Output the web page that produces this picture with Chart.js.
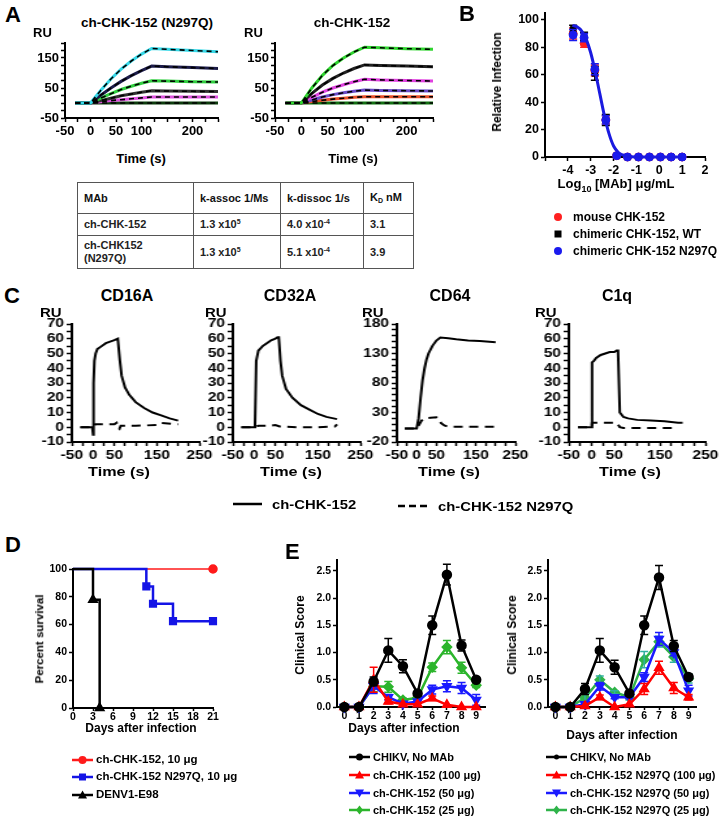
<!DOCTYPE html>
<html lang="en">
<head>
<meta charset="UTF-8">
<title>CHK-152 Fc binding and protection</title>
<script src="https://cdn.jsdelivr.net/npm/chart.js"></script>
<style>
  body { margin: 0; background: #fff; }
  #fig { position: relative; width: 723px; height: 821px; overflow: hidden;
         font-family: "Liberation Sans", Arial, sans-serif; font-weight: bold; color: #000; }
  #fig canvas { position: absolute; }
  .t { position: absolute; white-space: nowrap; line-height: 1; }
  .rot { position: absolute; white-space: nowrap; line-height: 1; transform: translate(-50%, -50%) rotate(-90deg); }
  table.kin { position: absolute; left: 77px; top: 182px; width: 336px; border-collapse: collapse;
              table-layout: fixed; font-size: 11px; color: #222; }
  table.kin td { border: 1.5px solid #555; padding: 0 6px; vertical-align: middle; line-height: 1.15; }
  table.kin tr.h td { color: #111; font-weight: 600; }
  table.kin sup { font-size: 7px; vertical-align: 4px; }
  table.kin sub { font-size: 7px; vertical-align: -2px; }
</style>
</head>
<body>
<div id="fig">
  <table class="kin">
    <colgroup><col style="width:116px"><col style="width:87px"><col style="width:83px"><col style="width:50px"></colgroup>
    <tr class="h" style="height:31px"><td>MAb</td><td>k-assoc 1/Ms</td><td>k-dissoc 1/s</td><td>K<sub>D</sub> nM</td></tr>
    <tr style="height:22px"><td>ch-CHK-152</td><td>1.3 x10<sup>5</sup></td><td>4.0 x10<sup>-4</sup></td><td>3.1</td></tr>
    <tr style="height:33px"><td>ch-CHK152<br>(N297Q)</td><td>1.3 x10<sup>5</sup></td><td>5.1 x10<sup>-4</sup></td><td>3.9</td></tr>
  </table>
</div>
<script>
// ---------- A: SPR sensorgrams ----------
const aTime = [-30, 0, 20, 40, 60, 80, 100, 120, 150, 200, 250];
const aN297Q = [
  [0, 0, 42, 80, 113, 140, 163, 182, 179, 175, 171],
  [0, 0, 26, 50, 72, 91, 108, 123, 121, 118, 115],
  [0, 0, 16, 31, 45, 56, 66, 74, 73, 71, 70],
  [0, 0, 8, 16, 24, 30, 36, 41, 40, 39, 38],
  [0, 0, 4, 8, 11, 14, 17, 20, 20, 20, 20],
  [0, 0, 0, 0, 0, 0, 0, 0, 0, 0, 0]
];
const aWT = [
  [0, 0, 50, 92, 125, 150, 170, 186, 184, 181, 179],
  [0, 0, 32, 60, 82, 100, 115, 127, 125, 123, 121],
  [0, 0, 19, 36, 50, 61, 71, 79, 77, 75, 73],
  [0, 0, 10, 20, 28, 34, 39, 43, 42, 41, 40],
  [0, 0, 5, 9, 13, 16, 19, 21, 21, 21, 21],
  [0, 0, 0, 0, 0, 0, 0, 0, 0, 0, 0]
];
const aN297QColors = ['#35d8e8', '#1c1c4a', '#2fcf3f', '#333333', '#e050e0', '#0d3d0d'];
const aWTColors = ['#2fd52f', '#222222', '#e040e0', '#6a4bc8', '#e8502a', '#127012'];
const aXLabels = [-50, 0, 50, 100, 200];
const aYLabels = [150, 50, -50];

// ---------- B: neutralization ----------
const bLogDose = [-3.77, -3.29, -2.82, -2.34, -1.86, -1.39, -0.91, -0.43, 0.05, 0.52, 1.0];
const bMouse = [90, 83, 63, 27, 1, 0, 0, 0, 0, 0, 0];
const bMouseErr = [4, 3, 4, 3, 1, 0, 0, 0, 0, 0, 0];
const bChimWT = [93, 88, 61, 27, 1, 0, 0, 0, 0, 0, 0];
const bChimWTErr = [3, 3, 5, 4, 1, 0, 0, 0, 0, 0, 0];
const bChimN297Q = [89, 87, 64, 27, 1, 0, 0, 0, 0, 0, 0];
const bChimN297QErr = [4, 3, 4, 3, 1, 0, 0, 0, 0, 0, 0];
const bFitX = [-3.8, -3.6, -3.4, -3.2, -3.0, -2.8, -2.6, -2.4, -2.2, -2.0, -1.8, -1.6, -1.4, -1.2, -1.0, 0, 1.0];
const bFitY = [96, 95, 92, 86, 76, 62, 46, 30, 17, 8, 3.5, 1.5, 0.6, 0.2, 0, 0, 0];
const bXLabels = [-4, -3, -2, -1, 0, 1, 2];
const bYLabels = [0, 20, 40, 60, 80, 100];

// ---------- C: Fc receptor / C1q binding ----------
const cd16aWtT  = [-30, -2, 0, 1, 3, 6, 10, 20, 30, 40, 50, 58, 60, 63, 67, 75, 85, 100, 120, 140, 160, 180, 200];
const cd16aWtRU = [0, 0, -5, 30, 45, 50, 53, 55, 57, 58, 59, 60, 60, 45, 35, 27, 22, 17, 13, 10, 8, 6, 4.5];
const cd16aMutT  = [-30, 0, 5, 50, 55, 58, 62, 65, 100, 150, 160, 200];
const cd16aMutRU = [0, 0, 2, 2, 3, 0, -1, 1, 1, 1.5, 3, 2];
const cd32aWtT  = [-30, 0, 2, 5, 10, 20, 30, 40, 50, 55, 58, 62, 66, 75, 90, 110, 130, 150, 170, 195];
const cd32aWtRU = [0, 0, 1, 45, 52, 55, 57, 59, 60, 61, 61, 45, 35, 26, 20, 15, 12, 9, 7, 5.5];
const cd32aMutT  = [-30, 0, 10, 40, 50, 60, 100, 150, 190, 195];
const cd32aMutRU = [0, 0, 1, 1, 1.5, 0.5, 0, 0, 0.5, 2];
const cd64WtT  = [-30, 0, 5, 10, 15, 20, 25, 30, 40, 50, 60, 80, 100, 130, 160, 200];
const cd64WtRU = [3, 3, 20, 55, 85, 105, 120, 130, 143, 152, 157, 156, 154, 152, 151, 149];
const cd64MutT  = [-30, 0, 5, 12, 20, 35, 50, 55, 62, 70, 80, 100, 150, 200];
const cd64MutRU = [3, 3, 8, 16, 20, 21, 22, 20, 12, 8, 6, 6, 6, 6];
const c1qWtT  = [-30, 0, 1, 5, 10, 20, 30, 40, 50, 55, 58, 62, 70, 80, 100, 130, 160, 190, 200];
const c1qWtRU = [0, 0, 44, 45, 47, 49, 50, 51, 51, 52, 52, 10, 7, 6, 5, 4.5, 4, 3, 3];
const c1qMutT  = [-30, 0, 1, 40, 50, 55, 60, 62, 70, 100, 150, 190];
const c1qMutRU = [0, 0, 3, 3, 3, 3, 1, 0, -0.5, -0.5, -0.5, -0.5];
const cXLabels = [-50, 0, 50, 150, 250];
const cYLabels = [-10, 0, 10, 20, 30, 40, 50, 60, 70];
const cd64YLabels = [-20, 30, 80, 130, 180];

// ---------- D: survival ----------
const dRedDay = [0, 21], dRedPct = [100, 100];
const dBlueDay = [0, 11, 12, 15, 21], dBluePct = [100, 87.5, 75, 62.5, 62.5];
const dBlackDay = [0, 3, 4], dBlackPct = [100, 77.8, 0];
const dXLabels = [0, 3, 6, 9, 12, 15, 18, 21];
const dYLabels = [0, 20, 40, 60, 80, 100];

// ---------- E: clinical score ----------
const eDays = [0, 1, 2, 3, 4, 5, 6, 7, 8, 9];
const eLeftChikv = [0, 0, 0.47, 1.04, 0.75, 0.25, 1.5, 2.43, 1.13, 0.5];
const eLeftChikvErr = [0, 0, 0.08, 0.22, 0.12, 0, 0.17, 0.19, 0.1, 0];
const eLeft100 = [0, 0, 0.5, 0.1, 0.05, 0.05, 0.16, 0.04, 0, 0];
const eLeft100Err = [0, 0, 0.23, 0.04, 0, 0, 0.04, 0, 0, 0];
const eLeft50 = [0, 0, 0.38, 0.18, 0.06, 0.1, 0.32, 0.38, 0.35, 0.13];
const eLeft50Err = [0, 0, 0.13, 0.05, 0, 0.03, 0.08, 0.1, 0.1, 0.1];
const eLeft25 = [0, 0, 0.38, 0.37, 0.13, 0.17, 0.73, 1.1, 0.72, 0.4];
const eLeft25Err = [0, 0, 0.1, 0.1, 0.03, 0.03, 0.08, 0.12, 0.1, 0.04];
const eRightChikv = [0, 0, 0.33, 1.04, 0.73, 0.25, 1.5, 2.38, 1.12, 0.55];
const eRightChikvErr = [0, 0, 0.1, 0.22, 0.13, 0, 0.17, 0.22, 0.1, 0.05];
const eRight100 = [0, 0, 0.02, 0.18, 0, 0.05, 0.33, 0.72, 0.35, 0.18];
const eRight100Err = [0, 0, 0, 0.04, 0, 0, 0.1, 0.12, 0.1, 0.05];
const eRight50 = [0, 0, 0.05, 0.38, 0.18, 0.18, 0.55, 1.25, 1.0, 0.3];
const eRight50Err = [0, 0, 0.03, 0.07, 0.03, 0.03, 0.08, 0.12, 0.06, 0.1];
const eRight25 = [0, 0, 0.17, 0.5, 0.27, 0.18, 0.87, 1.2, 0.92, 0.52];
const eRight25Err = [0, 0, 0.08, 0.07, 0.03, 0.05, 0.15, 0.1, 0.1, 0.08];
const eXLabels = [0, 1, 2, 3, 4, 5, 6, 7, 8, 9];
const eYLabels = [0, 0.5, 1, 1.5, 2, 2.5];

// ---------- helpers ----------
const FONT = '"Liberation Sans", Arial, sans-serif';
Chart.defaults.font.family = FONT;
Chart.defaults.font.weight = 'bold';
Chart.defaults.color = '#000';

const fig = document.getElementById('fig');
const pts = (xs, ys) => xs.map((x, i) => ({ x, y: ys[i] }));

// vertical error bars, drawn with their own dataset so layering stays right
Chart.register({
  id: 'errorBars',
  afterDatasetDraw(chart, args) {
    const ds = chart.data.datasets[args.index];
    if (!ds.errors) return;
    const ctx = chart.ctx, ys = chart.scales.y;
    ctx.save();
    ctx.strokeStyle = ds.errorColor || ds.borderColor;
    ctx.lineWidth = 1.5;
    args.meta.data.forEach((el, j) => {
      const e = ds.errors[j];
      if (!e) return;
      const v = ds.data[j].y;
      const y1 = ys.getPixelForValue(v + e), y2 = ys.getPixelForValue(v - e);
      ctx.beginPath();
      ctx.moveTo(el.x, y1); ctx.lineTo(el.x, y2);
      ctx.moveTo(el.x - 4, y1); ctx.lineTo(el.x + 4, y1);
      ctx.moveTo(el.x - 4, y2); ctx.lineTo(el.x + 4, y2);
      ctx.stroke();
    });
    ctx.restore();
  }
});

function axis(min, max, first, step, shown, size, fmt, tight) {
  return {
    type: 'linear', min, max,
    afterBuildTicks: s => {
      const t = [];
      for (let v = first; v <= max + 1e-9; v += step) t.push({ value: Math.round(v * 1000) / 1000 });
      s.ticks = t;
    },
    ticks: {
      autoSkip: false, maxRotation: 0, minRotation: 0, padding: tight ? 0 : 2, color: '#000',
      font: { size, weight: 'bold' },
      callback: v => shown.some(s => Math.abs(s - v) < 1e-6) ? (fmt ? fmt(v) : String(v)) : ''
    },
    grid: { drawOnChartArea: false, drawTicks: true, tickLength: tight ? 3 : 4, tickWidth: 1.5, tickColor: '#000' },
    border: { display: true, color: '#000', width: 2 }
  };
}

// box = plot area in page pixels; sx stretches the canvas horizontally
function plot(box, datasets, xAxis, yAxis, sx = 1) {
  const padL = 46, padR = 22, padT = 12, padB = 26;
  const cv = document.createElement('canvas');
  cv.width = Math.round((box.r - box.l) / sx) + padL + padR;
  cv.height = box.b - box.t + padT + padB;
  cv.style.width = (cv.width * sx) + 'px';
  cv.style.height = cv.height + 'px';
  cv.style.left = (box.l - padL * sx) + 'px';
  cv.style.top = (box.t - padT) + 'px';
  fig.appendChild(cv);
  xAxis.afterFit = s => { s.height = padB; };
  yAxis.afterFit = s => { s.width = padL; };
  datasets.forEach(d => { d.clip = false; d.tension = d.tension || 0; });
  return new Chart(cv, {
    type: 'line',
    data: { datasets },
    options: {
      responsive: false, animation: false,
      layout: { padding: { top: padT, right: padR, left: 0, bottom: 0 } },
      plugins: { legend: { display: false }, tooltip: { enabled: false } },
      scales: { x: xAxis, y: yAxis }
    }
  });
}

function label(html, x, y, size, align, sx) {
  const d = document.createElement('div');
  d.className = 't';
  d.innerHTML = html;
  d.style.fontSize = size + 'px';
  d.style.left = x + 'px';
  d.style.top = (y - 0.85 * size) + 'px';
  let tf = '';
  if (align === 'c') tf += 'translateX(-50%) ';
  if (sx) { tf += `scaleX(${sx})`; d.style.transformOrigin = align === 'c' ? '50% 50%' : '0 50%'; }
  if (tf) d.style.transform = tf;
  fig.appendChild(d);
}
function vlabel(html, cx, cy, size) {
  const d = document.createElement('div');
  d.className = 'rot';
  d.innerHTML = html;
  d.style.fontSize = size + 'px';
  d.style.left = cx + 'px';
  d.style.top = cy + 'px';
  fig.appendChild(d);
}
function marker(shape, cx, cy, color, r = 4) {
  if (shape === 'circle') return `<circle cx="${cx}" cy="${cy}" r="${r}" fill="${color}"/>`;
  if (shape === 'square') return `<rect x="${cx - r + 0.5}" y="${cy - r + 0.5}" width="${2 * r - 1}" height="${2 * r - 1}" fill="${color}"/>`;
  if (shape === 'tri') return `<polygon points="${cx},${cy - r - 1} ${cx - r - 1},${cy + r} ${cx + r + 1},${cy + r}" fill="${color}"/>`;
  if (shape === 'triDown') return `<polygon points="${cx},${cy + r + 1} ${cx - r - 1},${cy - r} ${cx + r + 1},${cy - r}" fill="${color}"/>`;
  if (shape === 'diamond') return `<polygon points="${cx},${cy - r - 1} ${cx + r},${cy} ${cx},${cy + r + 1} ${cx - r},${cy}" fill="${color}"/>`;
  return '';
}
function key(x1, x2, y, color, shape, opts = {}) {
  const w = x2 - x1 + 12, h = 16, cx = (x2 - x1) / 2 + 6;
  let s = `<svg width="${w}" height="${h}" style="position:absolute;left:${x1 - 6}px;top:${y - 8}px">`;
  if (opts.line !== false) s += `<line x1="6" y1="8" x2="${w - 6}" y2="8" stroke="${color}" stroke-width="${opts.lw || 2.5}"${opts.dash ? ` stroke-dasharray="${opts.dash}"` : ''}/>`;
  s += marker(shape, cx, 8, color, opts.r || 4) + '</svg>';
  fig.insertAdjacentHTML('beforeend', s);
}

// ---------- panel A ----------
function spr(curves, colors) {
  const out = [];
  curves.forEach((c, i) => {
    out.push({ data: pts(aTime, c), borderColor: '#000', borderWidth: 1.6, borderDash: [5, 4], pointRadius: 0, order: 0 });
    out.push({ data: pts(aTime, c), borderColor: colors[i], borderWidth: 3, pointRadius: 0, order: 1 });
  });
  return out;
}
plot({ l: 65, r: 218, t: 43, b: 118 }, spr(aN297Q, aN297QColors),
  axis(-50, 250, -50, 25, aXLabels, 13), axis(-50, 200, -50, 25, aYLabels, 13));
plot({ l: 275, r: 433, t: 43, b: 118 }, spr(aWT, aWTColors),
  axis(-50, 250, -50, 25, aXLabels, 13), axis(-50, 200, -50, 25, aYLabels, 13));

label('A', 5, 23, 22);
label('ch-CHK-152 (N297Q)', 147, 27, 13.5, 'c');
label('ch-CHK-152', 352, 27, 13.5, 'c');
label('RU', 33, 37, 13);
label('RU', 244, 37, 13);
label('Time (s)', 141, 163, 13, 'c');
label('Time (s)', 353, 163, 13, 'c');

// ---------- panel B ----------
const bRed = '#ff2020', bBlue = '#1a1aee';
plot({ l: 545, r: 705, t: 13, b: 157 }, [
  { data: pts(bFitX, bFitY), borderColor: '#1a1ae0', borderWidth: 3, pointRadius: 0, order: 0, cubicInterpolationMode: 'monotone' },
  { data: pts(bLogDose, bChimN297Q), errors: bChimN297QErr, showLine: false, pointStyle: 'circle', pointRadius: 4, pointBackgroundColor: bBlue, pointBorderColor: bBlue, borderColor: bBlue, order: 1 },
  { data: pts(bLogDose, bChimWT), errors: bChimWTErr, showLine: false, pointStyle: 'rect', pointRadius: 4, pointBackgroundColor: '#000', pointBorderColor: '#000', borderColor: '#000', order: 2 },
  { data: pts(bLogDose, bMouse), errors: bMouseErr, showLine: false, pointStyle: 'circle', pointRadius: 4, pointBackgroundColor: bRed, pointBorderColor: bRed, borderColor: bRed, order: 3 }
], axis(-5, 2, -5, 1, bXLabels, 12.5), axis(0, 105, 0, 20, bYLabels, 12.5));

label('B', 459, 22, 22);
vlabel('Relative Infection', 497, 82, 12);
label('Log<sub style="font-size:9px">10</sub> [MAb] &mu;g/mL', 616, 188, 13, 'c');
key(552, 564, 217, bRed, 'circle', { line: false });
key(552, 564, 234, '#000', 'square', { line: false });
key(552, 564, 251, bBlue, 'circle', { line: false });
label('mouse CHK-152', 573, 221, 12);
label('chimeric CHK-152, WT', 573, 238, 12);
label('chimeric CHK-152 N297Q', 573, 255, 12);

// ---------- panel C ----------
const CSX = 1.3;
function cSets(wt, mut) {
  return [
    { data: wt, borderColor: '#000', borderWidth: 2, pointRadius: 0 },
    { data: mut, borderColor: '#000', borderWidth: 2, borderDash: [7, 5], pointRadius: 0 }
  ];
}
const cx = () => axis(-50, 250, -50, 25, cXLabels, 12);
plot({ l: 72, r: 200, t: 324, b: 442 }, cSets(pts(cd16aWtT, cd16aWtRU), pts(cd16aMutT, cd16aMutRU)),
  cx(), axis(-10, 70, -10, 5, cYLabels, 12), CSX);
plot({ l: 233, r: 360, t: 324, b: 442 }, cSets(pts(cd32aWtT, cd32aWtRU), pts(cd32aMutT, cd32aMutRU)),
  cx(), axis(-10, 70, -10, 5, cYLabels, 12), CSX);
plot({ l: 397, r: 515, t: 324, b: 442 }, cSets(pts(cd64WtT, cd64WtRU), pts(cd64MutT, cd64MutRU)),
  cx(), axis(-20, 180, -20, 10, cd64YLabels, 12), CSX);
plot({ l: 569, r: 705, t: 324, b: 442 }, cSets(pts(c1qWtT, c1qWtRU), pts(c1qMutT, c1qMutRU)),
  cx(), axis(-10, 70, -10, 5, cYLabels, 12), CSX);

label('C', 4, 304, 22);
label('CD16A', 127, 302, 16, 'c');
label('CD32A', 290, 302, 16, 'c');
label('CD64', 450, 302, 16, 'c');
label('C1q', 617, 302, 16, 'c');
[40, 205, 362, 535].forEach(x => label('RU', x, 317, 13, null, 1.15));
[119, 291, 449, 630].forEach(x => label('Time (s)', x, 476, 13.5, 'c', 1.2));
key(233, 262, 504, '#000', 'none', { lw: 2.5 });
label('ch-CHK-152', 272, 509, 13.5, null, 1.1);
key(398, 428, 506, '#000', 'none', { lw: 2.5, dash: '7 4' });
label('ch-CHK-152 N297Q', 438, 511, 13.5, null, 1.1);

// ---------- panel D ----------
const dRed = '#ff1a1a', dBlue = '#1414e6';
plot({ l: 73, r: 213, t: 569, b: 708 }, [
  { data: pts(dBlackDay, dBlackPct), stepped: 'before', borderColor: '#000', borderWidth: 2.5, pointStyle: 'triangle', pointRadius: [0, 4, 4], pointBackgroundColor: '#000', pointBorderColor: '#000', order: 0 },
  { data: pts(dBlueDay, dBluePct), stepped: 'before', borderColor: dBlue, borderWidth: 2.5, pointStyle: 'rect', pointRadius: [0, 4, 4, 4, 4], pointBackgroundColor: dBlue, pointBorderColor: dBlue, order: 1 },
  { data: pts(dRedDay, dRedPct), stepped: 'before', borderColor: dRed, borderWidth: 1.5, pointStyle: 'circle', pointRadius: [0, 4], pointBackgroundColor: dRed, pointBorderColor: dRed, order: 2 }
], axis(0, 21, 0, 3, dXLabels, 10.5, null, true), axis(0, 100, 0, 20, dYLabels, 10.5));

label('D', 5, 553, 22);
vlabel('Percent survival', 40, 639, 11.5);
label('Days after infection', 141, 732, 12, 'c');
key(72, 93, 760, dRed, 'circle');
key(72, 93, 777, dBlue, 'square');
key(72, 93, 795, '#000', 'tri', { r: 3.5 });
label('ch-CHK-152, 10 &mu;g', 96, 764, 11.5);
label('ch-CHK-152 N297Q, 10 &mu;g', 96, 781, 11.5);
label('DENV1-E98', 96, 799, 11.5);

// ---------- panel E ----------
const eRed = '#ff0000', eBlue = '#1a1aff', eGreenL = '#2cb52c', eGreenR = '#2fb34a';
function eSets(chikv, chikvErr, s100, s100Err, s50, s50Err, s25, s25Err, green, greenErr) {
  const base = { borderWidth: 2.5, pointRadius: 4 };
  return [
    { ...base, data: pts(eDays, chikv), errors: chikvErr, borderColor: '#000', pointStyle: 'circle', pointBackgroundColor: '#000', pointBorderColor: '#000' },
    { ...base, data: pts(eDays, s100), errors: s100Err, borderColor: eRed, pointStyle: 'triangle', pointBackgroundColor: eRed, pointBorderColor: eRed },
    { ...base, data: pts(eDays, s50), errors: s50Err, borderColor: eBlue, pointStyle: 'triangle', rotation: 180, pointRotation: 180, pointBackgroundColor: eBlue, pointBorderColor: eBlue },
    { ...base, data: pts(eDays, s25), errors: s25Err, borderColor: green, errorColor: greenErr, pointStyle: 'rectRot', pointBackgroundColor: green, pointBorderColor: green }
  ];
}
const eFmt = v => v.toFixed(1);
plot({ l: 337, r: 485, t: 560, b: 707 },
  eSets(eLeftChikv, eLeftChikvErr, eLeft100, eLeft100Err, eLeft50, eLeft50Err, eLeft25, eLeft25Err, eGreenL, eGreenL),
  axis(-0.5, 9.6, 0, 1, eXLabels, 10.5, null, true), axis(0, 2.7, 0, 0.5, eYLabels, 10.5, eFmt));
plot({ l: 548, r: 696, t: 560, b: 707 },
  eSets(eRightChikv, eRightChikvErr, eRight100, eRight100Err, eRight50, eRight50Err, eRight25, eRight25Err, eGreenR, '#30b0a0'),
  axis(-0.5, 9.5, 0, 1, eXLabels, 10.5, null, true), axis(0, 2.7, 0, 0.5, eYLabels, 10.5, eFmt));

label('E', 285, 560, 22);
vlabel('Clinical Score', 300, 635, 12);
vlabel('Clinical Score', 512, 635, 12);
label('Days after infection', 404, 732, 12, 'c');
label('Days after infection', 622, 739, 12, 'c');

const eLegY = [757, 775, 793, 810];
const eLegStyle = [['#000', 'circle'], [eRed, 'tri'], [eBlue, 'triDown'], [eGreenL, 'diamond']];
const eLeftNames = ['CHIKV, No MAb', 'ch-CHK-152 (100 &mu;g)', 'ch-CHK-152 (50 &mu;g)', 'ch-CHK-152 (25 &mu;g)'];
const eRightNames = ['CHIKV, No MAb', 'ch-CHK-152 N297Q (100 &mu;g)', 'ch-CHK-152 N297Q (50 &mu;g)', 'ch-CHK-152 N297Q (25 &mu;g)'];
eLegY.forEach((y, i) => {
  key(349, 370, y, eLegStyle[i][0], eLegStyle[i][1], { r: 3.5 });
  label(eLeftNames[i], 373, y + 4, 11);
  key(546, 567, y, i === 3 ? eGreenR : eLegStyle[i][0], eLegStyle[i][1], { r: i === 0 ? 2.5 : 3.5 });
  label(eRightNames[i], 570, y + 4, 11);
});
</script>
</body>
</html>
